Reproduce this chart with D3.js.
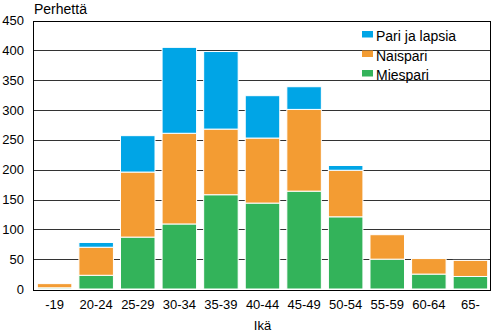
<!DOCTYPE html>
<html>
<head>
<meta charset="utf-8">
<script src="https://cdn.jsdelivr.net/npm/d3@7"></script>
<style>
  html, body { margin: 0; padding: 0; background: #fff; }
  svg { display: block; font-family: "Liberation Sans", Arial, sans-serif; }
</style>
</head>
<body>
<svg id="chart" width="492" height="334"></svg>
<script>
// Age groups
const categories = ["-19", "20-24", "25-29", "30-34", "35-39", "40-44", "45-49", "50-54", "55-59", "60-64", "65-"];
// Families by type (stacked bottom to top: Miespari, Naispari, Pari ja lapsia)
const miespari    = [2, 23, 87, 109, 158, 144, 164, 121, 50, 25, 21];
const naispari    = [7, 47, 109, 152, 110, 109, 137, 78, 41, 26, 27];
const pariJaLapsia = [0, 8, 61, 144, 130, 71, 38, 8, 0, 0, 0];
const yTicks = [0, 50, 100, 150, 200, 250, 300, 350, 400, 450];

const seriesNames = ["Miespari", "Naispari", "Pari ja lapsia"];
const seriesColors = ["#33b35a", "#f39c33", "#00a5e6"];
const seriesValues = [miespari, naispari, pariJaLapsia];

const rows = categories.map((c, i) => {
  const r = { cat: c };
  seriesNames.forEach((s, k) => r[s] = seriesValues[k][i]);
  return r;
});

const svg = d3.select("#chart");
const plotLeft = 34, plotRight = 491, plotTop = 20.5, plotBottom = 289;

const x = d3.scaleBand().domain(categories).range([plotLeft, plotRight])
  .paddingInner(0.17).paddingOuter(0.08);
const y = d3.scaleLinear().domain([0, 450]).range([plotBottom, plotTop]);

const crisp = v => Math.round(v) + 0.5;

// Gridlines
svg.append("g").selectAll("line").data(yTicks.slice(1, -1)).join("line")
  .attr("x1", plotLeft).attr("x2", plotRight)
  .attr("y1", d => crisp(y(d))).attr("y2", d => crisp(y(d)))
  .attr("stroke", "#333").attr("stroke-width", 1);

// Stacked bars
const stack = d3.stack().keys(seriesNames)(rows);
svg.append("g").selectAll("g").data(stack).join("g")
  .attr("fill", (d, i) => seriesColors[i])
  .selectAll("rect").data(d => d.filter(s => s[1] - s[0] > 0)).join("rect")
  .attr("x", d => x(d.data.cat))
  .attr("width", x.bandwidth())
  .attr("y", d => y(d[1]))
  .attr("height", d => y(d[0]) - y(d[1]))
  .attr("stroke", "#fff").attr("stroke-width", 1);

// Plot frame
svg.append("rect")
  .attr("x", crisp(plotLeft) - 1).attr("y", crisp(plotTop))
  .attr("width", Math.round(plotRight - plotLeft))
  .attr("height", Math.round(plotBottom - plotTop))
  .attr("fill", "none").attr("stroke", "#000").attr("stroke-width", 1);

// Y axis labels
svg.append("g").selectAll("text").data(yTicks).join("text")
  .attr("x", 24).attr("y", d => y(d)).attr("dy", "0.35em")
  .attr("text-anchor", "end").attr("font-size", 13).attr("fill", "#000")
  .text(d => d);

// X axis labels
svg.append("g").selectAll("text").data(categories).join("text")
  .attr("x", d => x(d) + x.bandwidth() / 2).attr("y", 308.5)
  .attr("text-anchor", "middle").attr("font-size", 13).attr("fill", "#000")
  .text(d => d);

// Axis titles
svg.append("text").attr("x", 34).attr("y", 14).attr("font-size", 14).text("Perhettä");
svg.append("text").attr("x", (plotLeft + plotRight) / 2).attr("y", 330)
  .attr("text-anchor", "middle").attr("font-size", 13).text("Ikä");

// Legend (top to bottom: Pari ja lapsia, Naispari, Miespari)
const legendOrder = [2, 1, 0];
const lg = svg.append("g").selectAll("g").data(legendOrder).join("g")
  .attr("transform", (d, i) => `translate(362, ${31 + i * 19.5})`);
lg.append("rect").attr("width", 11).attr("height", 6.5).attr("fill", d => seriesColors[d]);
lg.append("text").attr("x", 14).attr("y", 10).attr("font-size", 14)
  .text(d => seriesNames[d]);
</script>
</body>
</html>
